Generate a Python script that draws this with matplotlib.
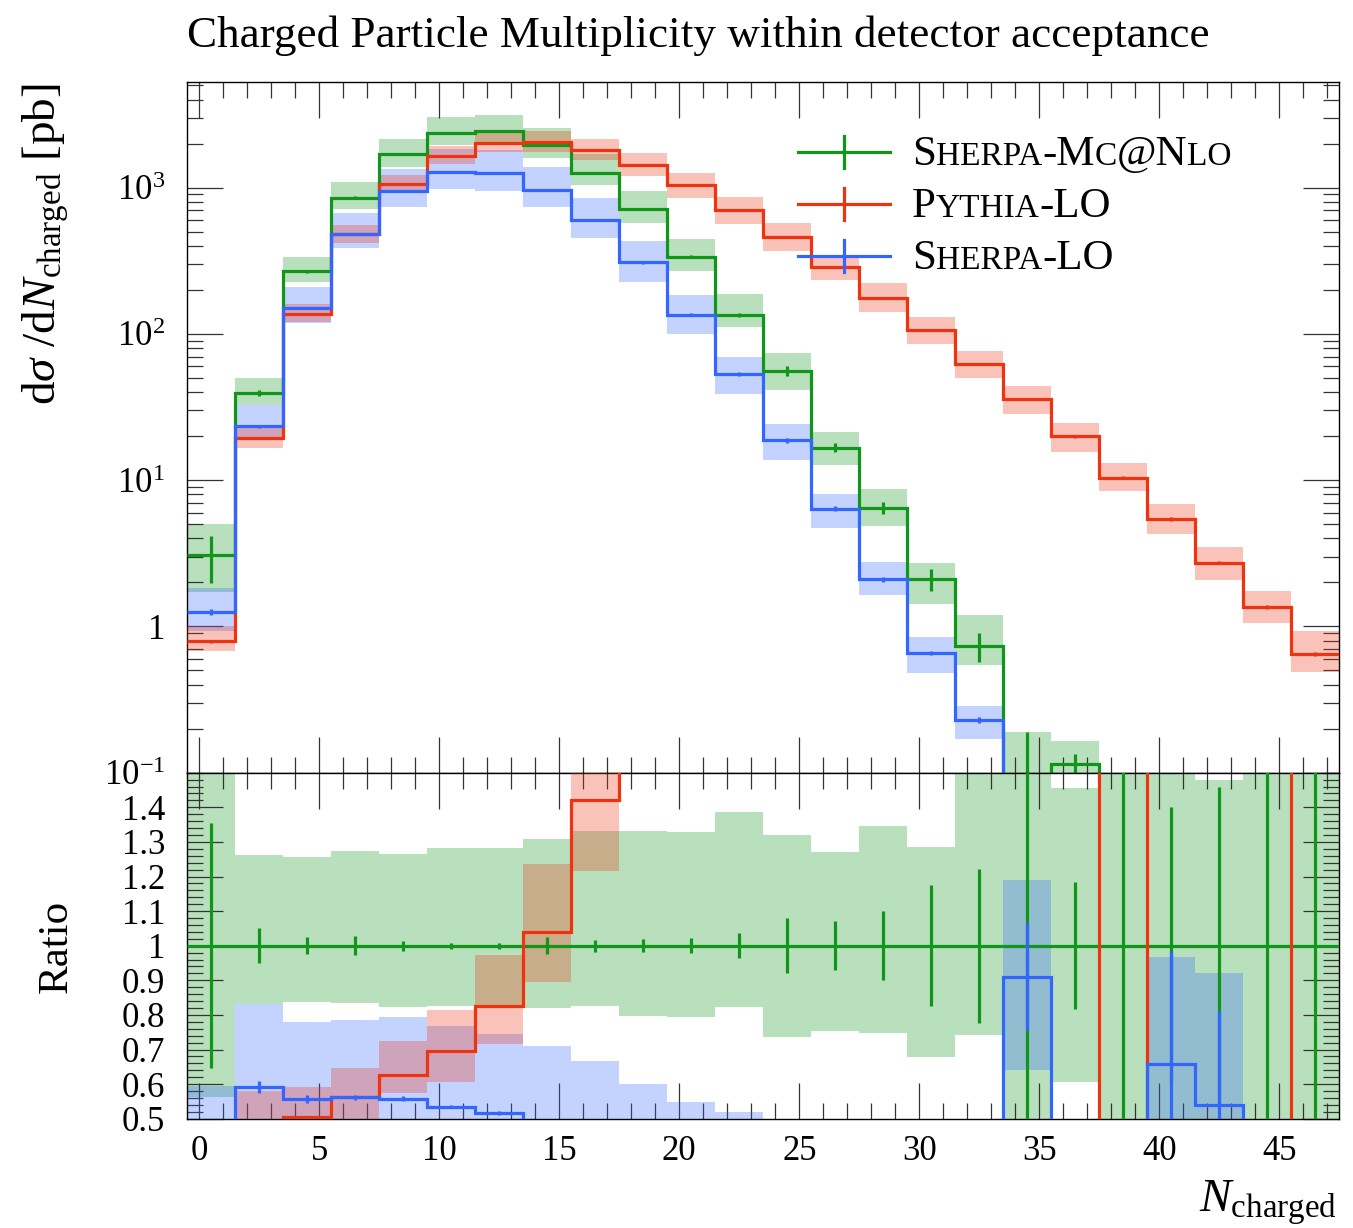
import numpy as np
import matplotlib
matplotlib.use("Agg")
import matplotlib.pyplot as plt
from matplotlib.offsetbox import TextArea, HPacker, AnchoredOffsetbox
from matplotlib.ticker import (FixedLocator, MultipleLocator, LogLocator,
                               FuncFormatter, NullFormatter)

# ---------------- data ----------------
bin_edges = np.arange(-0.5, 48.0, 2.0)          # 24 bins of width 2

green_vals = [3.06, 39.4, 269, 855, 1692, 2375, 2437, 1958, 1266, 715, 338, 135,
              56, 16.7, 6.48, 2.11, 0.733, 0.05, 0.114, 0.0, 0.03, 0.02, 0.01, 0.0]
green_band_lo = [1.72, 32.8, 225, 714, 1394, 1962, 2008, 1604, 1046, 570, 268, 111,
                 41.3, 12.6, 4.84, 1.43, 0.544, 0.01, 0.069, 0.0, 0.01, 0.008, 0.002, 0.0]
green_band_hi = [5.0, 49.7, 338, 1090, 2140, 3045, 3122, 2563, 1686, 952, 449, 187,
                 73.9, 21.2, 8.72, 2.71, 1.19, 0.19, 0.166, 0.0, 0.06, 0.0296, 0.03, 0.0]
green_err_rel = [0.354, 0.05, 0.024, 0.027, 0.014, 0.009, 0.009, 0.024, 0.017, 0.019,
                 0.022, 0.036, 0.08, 0.07, 0.099, 0.174, 0.223, 2.8, 0.183, 0.0,
                 0.40, 0.46, 1.5, 0.0]

red_vals = [0.79, 19.4, 136, 480, 1059, 1655, 2013, 2038, 1799, 1429, 1043, 705,
            462, 288, 177, 107, 62.2, 35.9, 19.9, 10.4, 5.43, 2.72, 1.35, 0.65]
red_band_lo = [0.68, 16.5, 120, 417, 970, 1442, 1742, 1754, 1539, 1202, 847, 565,
               366, 232, 142, 85.5, 50, 28.3, 15.7, 8.4, 4.3, 2.09, 1.06, 0.49]
red_band_hi = [1.0, 22.9, 159, 552, 1227, 1933, 2371, 2420, 2150, 1719, 1254, 868,
               571, 347, 222, 131.5, 77, 44.2, 24.6, 13.2, 6.9, 3.5, 1.74, 0.93]
red_err_rel = [0.03, 0.02, 0.015, 0.012, 0.01, 0.01, 0.01, 0.01, 0.01, 0.01, 0.01,
               0.012, 0.012, 0.015, 0.015, 0.015, 0.02, 0.02, 0.02, 0.02, 0.025,
               0.025, 0.03, 0.03]

blue_vals = [1.25, 23.3, 150, 480, 944, 1271, 1260, 964, 601, 309, 135, 53.1,
             18.7, 6.38, 2.11, 0.66, 0.229, 0.0455, 0.02, 0.0, 0.0197, 0.0108, 0.0, 0.0]
blue_band_lo = [0.93, 19.0, 118, 385, 741, 975, 955, 741, 451, 228, 99.7, 39,
                13.8, 4.7, 1.63, 0.48, 0.169, 0.032, 0.01, 0.0, 0.003, 0.002, 0.0, 0.0]
blue_band_hi = [1.82, 32.8, 210, 671, 1345, 1824, 1813, 1390, 844, 430, 185, 70,
                24.3, 8.1, 2.76, 0.85, 0.285, 0.0595, 0.03, 0.0, 0.029, 0.0184, 0.0, 0.0]
blue_err_rel = [0.045, 0.03, 0.02, 0.015, 0.012, 0.01, 0.01, 0.012, 0.015, 0.02,
                0.025, 0.03, 0.035, 0.04, 0.04, 0.03, 0.05, 0.17, 0.3, 0.0, 0.5,
                0.5, 0.0, 0.0]

title = "Charged Particle Multiplicity within detector acceptance"
x_ticks = [0, 5, 10, 15, 20, 25, 30, 35, 40, 45]
ratio_ticks = [0.5, 0.6, 0.7, 0.8, 0.9, 1.0, 1.1, 1.2, 1.3, 1.4]

# ---------------- style ----------------
plt.rcParams["font.family"] = ["Liberation Serif", "DejaVu Serif"]
plt.rcParams["mathtext.fontset"] = "custom"
plt.rcParams["mathtext.rm"] = "Liberation Serif"
plt.rcParams["mathtext.it"] = "Liberation Serif:italic"
plt.rcParams["mathtext.bf"] = "Liberation Serif:bold"

C_GREEN = "#109618"
C_RED = "#EE3311"
C_BLUE = "#3366FF"
ALPHA = 0.29
LW = 2.3
TICK_FS = 25
LABEL_FS = 31

W, H = 1353, 1228
fig = plt.figure(figsize=(W / 100, H / 100), dpi=100)

left = 187.3 / W
width = 1152.0 / W
ax = fig.add_axes([left, 1 - 772.7 / H, width, (772.7 - 81.7) / H])
axr = fig.add_axes([left, 1 - 1118.7 / H, width, 346.0 / H])

edges = bin_edges
centers = 0.5 * (edges[:-1] + edges[1:])
TINY = 1e-9

g = np.array(green_vals, float)
has = g > 0


def pos(a):
    a = np.asarray(a, float)
    return np.where(a > 0, a, TINY)


def ratio(a, fill=0.0):
    a = np.asarray(a, float)
    out = np.full_like(a, fill)
    np.divide(a, g, out=out, where=has)
    return out


series = [
    ("green", C_GREEN, green_vals, green_band_lo, green_band_hi, green_err_rel),
    ("blue", C_BLUE, blue_vals, blue_band_lo, blue_band_hi, blue_err_rel),
    ("red", C_RED, red_vals, red_band_lo, red_band_hi, red_err_rel),
]
line_z = {"green": 5, "red": 6, "blue": 7}

# ---------------- main panel ----------------
for k, (name, c, v, lo, hi, er) in enumerate(series):
    ax.stairs(pos(hi), edges, baseline=pos(lo), fill=True, color=c,
              alpha=ALPHA, lw=0, zorder=1 + k)
for name, c, v, lo, hi, er in series:
    v = np.asarray(v, float)
    e = v * np.asarray(er, float)
    ax.stairs(pos(v), edges, baseline=None, color=c, lw=LW, zorder=line_z[name])
    m = v > 0
    ax.vlines(centers[m], np.maximum(v[m] - e[m], TINY), v[m] + e[m], color=c,
              lw=LW, zorder=line_z[name])

ax.set_yscale("log")
ax.set_xlim(edges[0], edges[-1])
ax.set_ylim(0.1, 5300)

# ---------------- ratio panel ----------------
for k, (name, c, v, lo, hi, er) in enumerate(series):
    if name == "green":
        rlo = np.where(has, ratio(lo), 0.0)
        rhi = np.where(has, ratio(hi), 2.0)
    else:
        rlo = ratio(lo)
        rhi = ratio(hi)
    axr.stairs(rhi, edges, baseline=rlo, fill=True, color=c, alpha=ALPHA,
               lw=0, zorder=1 + k)

for name, c, v, lo, hi, er in series:
    if name == "green":
        rv = np.ones_like(g)
        rerr = np.where(has, np.asarray(er, float), 1.0)
        m = np.ones_like(g, bool)
    else:
        rv = ratio(v)
        rerr = rv * np.asarray(er, float)
        m = rv > 0
    axr.stairs(rv, edges, baseline=None, color=c, lw=LW, zorder=line_z[name])
    if name != "red":
        axr.vlines(centers[m], rv[m] - rerr[m], rv[m] + rerr[m], color=c, lw=LW,
                   zorder=line_z[name])

axr.set_xlim(edges[0], edges[-1])
axr.set_ylim(0.5, 1.5)

# ---------------- ticks ----------------
for a in (ax, axr):
    a.tick_params(which="both", direction="in", top=True, right=True,
                  color="#333333", width=0.9, labelsize=TICK_FS)
    a.tick_params(which="major", length=26)
    a.tick_params(which="minor", length=11.5)
    a.xaxis.set_major_locator(FixedLocator(x_ticks))
    a.xaxis.set_minor_locator(MultipleLocator(1))
    for s in a.spines.values():
        s.set_linewidth(1.0)
        s.set_color("black")

ax.tick_params(axis="x", labelbottom=False)
ax.tick_params(axis="y", pad=16)
ax.yaxis.set_major_locator(LogLocator(base=10, numticks=12))
ax.yaxis.set_minor_locator(LogLocator(base=10, subs=np.arange(2, 10), numticks=12))
ax.yaxis.set_minor_formatter(NullFormatter())


def logfmt(val, _):
    p = int(round(np.log10(val)))
    return "1" if p == 0 else r"$10^{%d}$" % p


ax.yaxis.set_major_formatter(FuncFormatter(logfmt))

axr.yaxis.set_major_locator(FixedLocator(ratio_ticks))
axr.yaxis.set_minor_locator(MultipleLocator(0.02))
axr.yaxis.set_major_formatter(
    FuncFormatter(lambda v, _: "1" if abs(v - 1) < 1e-9 else "%.1f" % v))
axr.tick_params(axis="y", pad=16)
axr.tick_params(axis="x", pad=12)
axr.xaxis.set_major_formatter(FuncFormatter(lambda v, _: "%d" % v))

# ---------------- labels ----------------
fig.text(187.3 / W, 1 - 47 / H, title, ha="left", va="baseline", fontsize=32.5)
fig.text(46 / W, 1 - 83 / H, r"d$\sigma$ /d$N_{\mathrm{charged}}$ [pb]",
         rotation=90, ha="center", va="top", fontsize=34)
fig.text(57 / W, 1 - 946 / H, "Ratio", rotation=90, ha="center", va="center",
         fontsize=LABEL_FS)
fig.text(1337 / W, 1 - 1212 / H, r"$N_{\mathrm{charged}}$", ha="right",
         va="baseline", fontsize=34)

# ---------------- legend (small caps emulated) ----------------
BIG, SMALL = 31, 24
legend_entries = [
    (C_GREEN, [("S", BIG), ("HERPA", SMALL), ("-M", BIG), ("C", SMALL),
               ("@N", BIG), ("LO", SMALL)]),
    (C_RED, [("P", BIG), ("YTHIA", SMALL), ("-LO", BIG)]),
    (C_BLUE, [("S", BIG), ("HERPA", SMALL), ("-LO", BIG)]),
]
ax_h = 772.7 - 81.7
row_px = [152, 204, 256]
x0 = (798 - 187.3) / 1152.0
x1 = (890 - 187.3) / 1152.0
xm = (844 - 187.3) / 1152.0
xt = (912 - 187.3) / 1152.0
dy = 16 / ax_h
for (c, parts), yp in zip(legend_entries, row_px):
    yf = (772.7 - yp) / ax_h
    ax.plot([x0, x1], [yf, yf], color=c, lw=LW, transform=ax.transAxes,
            zorder=10, clip_on=False)
    ax.plot([xm, xm], [yf - dy, yf + dy], color=c, lw=LW, transform=ax.transAxes,
            zorder=10, clip_on=False)
    boxes = [TextArea(t, textprops=dict(fontsize=s, color="black")) for t, s in parts]
    hp = HPacker(children=boxes, align="baseline", pad=0, sep=0)
    ab = AnchoredOffsetbox(loc="center left", child=hp, pad=0, borderpad=0,
                           frameon=False, bbox_to_anchor=(xt, yf - 0.004),
                           bbox_transform=ax.transAxes)
    ab.set_zorder(11)
    ax.add_artist(ab)

fig.savefig("out.png", dpi=100)
